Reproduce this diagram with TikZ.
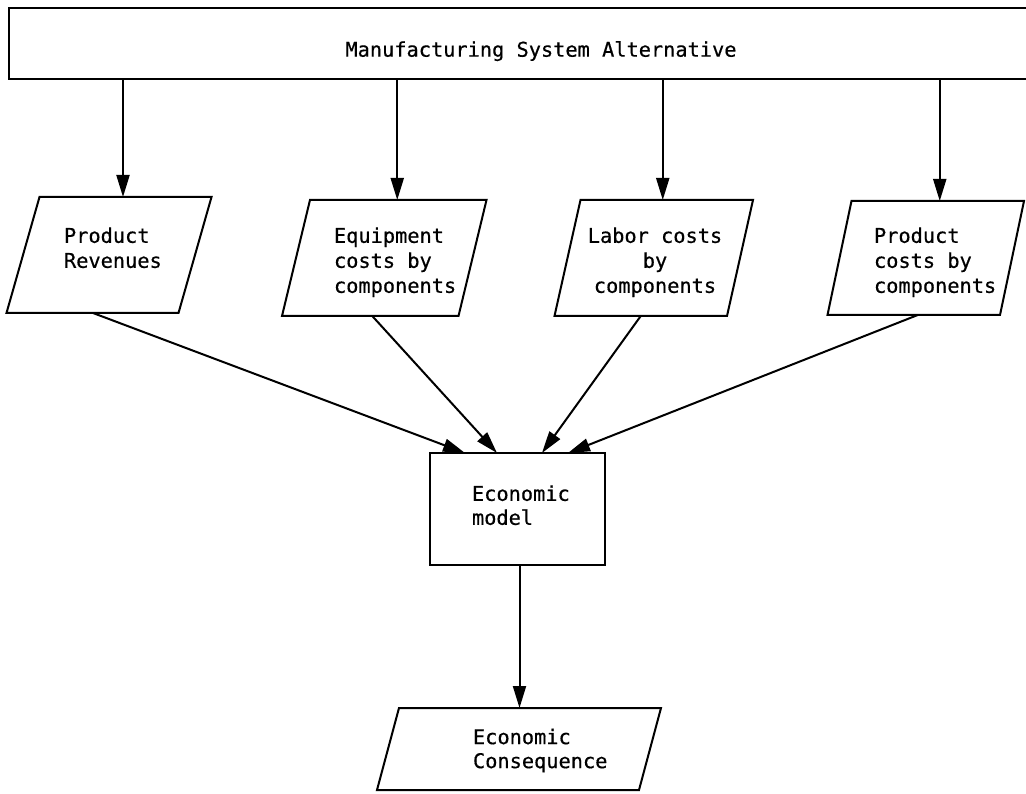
\documentclass[tikz,border=0pt]{standalone}
\usepackage{fontspec}
\setmainfont{DejaVu Sans Mono}[FakeBold=0.5]
\usetikzlibrary{arrows.meta}
\newcommand\drawpara[2]{\draw ([xshift=-#2]#1.south west) -- ([xshift=#2]#1.north west) -- ([xshift=#2]#1.north east) -- ([xshift=-#2]#1.south east) -- cycle;}
\begin{document}
\begin{tikzpicture}[x=1pt,y=-1pt,line width=2pt,
  frame/.style={draw=none,rectangle,inner sep=0pt,outer sep=0pt},
  boxed/.style={draw,rectangle,inner sep=0pt,outer sep=0pt},
  lbl/.style={inner sep=0pt,anchor=north west,align=left,font=\fontsize{20.3}{25}\selectfont},
  lblb/.style={lbl,font=\fontsize{20.3}{24}\selectfont},
  arr/.style={-{Triangle[length=22pt,width=13pt]},line width=2pt}]
\useasboundingbox (0,0) rectangle (1026,794);
\clip (0,0) rectangle (1026,794);
\fill[white] (0,0) rectangle (1026,794);
% top box
\node[boxed,minimum width=1081pt,minimum height=71pt] (top) at (549.5,43.5) {};
\node[lbl,anchor=base] (tt) at (541,56.7) {Manufacturing System Alternative};
% parallelograms
\node[frame,minimum width=172pt,minimum height=116pt] (p1) at (109,255) {};
\node[frame,minimum width=176.5pt,minimum height=116pt] (p2) at (384.25,258) {};
\node[frame,minimum width=172.5pt,minimum height=116pt] (p3) at (653.75,258) {};
\node[frame,minimum width=172.5pt,minimum height=114pt] (p4) at (925.75,258) {};
\drawpara{p1}{16.5}
\drawpara{p2}{14}
\drawpara{p3}{13}
\drawpara{p4}{12}
\node[lbl] (p1t) at (63,226.4) {Product\\Revenues};
\node[lbl] (p2t) at (333,226.4) {Equipment\\costs by\\components};
\node[lbl,anchor=north,align=center] (p3t) at (655,226.4) {Labor costs\\by\\components};
\node[lbl] (p4t) at (873,226.4) {Product\\costs by\\components};
% economic model
\node[boxed,minimum width=175pt,minimum height=112pt] (em) at (517.5,509) {};
\node[lblb] (emt) at (471,484.4) {Economic\\model};
% economic consequence
\node[frame,minimum width=262pt,minimum height=82pt] (ec) at (519,749) {};
\drawpara{ec}{11}
\node[lblb] (ect) at (472,727.7) {Economic\\Consequence};
% connector end points
\coordinate (p1n) at ([xshift=14]p1.north);
\coordinate (p2n) at ([xshift=13]p2.north);
\coordinate (p3n) at ([xshift=9]p3.north);
\coordinate (p4n) at ([xshift=14]p4.north);
\coordinate (p1s) at ([xshift=-16]p1.south);
\coordinate (p2s) at ([xshift=-12]p2.south);
\coordinate (p3s) at ([xshift=-13]p3.south);
\coordinate (p4s) at ([xshift=-8]p4.south);
\coordinate (e1) at ([xshift=-52.5]em.north);
\coordinate (e2) at ([xshift=-20.5]em.north);
\coordinate (e3) at ([xshift=24.5]em.north);
\coordinate (e4) at ([xshift=50.5]em.north);
\coordinate (ems) at ([xshift=2]em.south);
% connectors
\draw[arr] (p1n |- top.south) -- (p1n);
\draw[arr] (p2n |- top.south) -- (p2n);
\draw[arr] (p3n |- top.south) -- (p3n);
\draw[arr] (p4n |- top.south) -- (p4n);
\draw[arr] (p1s) -- (e1);
\draw[arr] (p2s) -- (e2);
\draw[arr] (p3s) -- (e3);
\draw[arr] (p4s) -- (e4);
\draw[arr] (ems) -- (ems |- ec.north);
\end{tikzpicture}
\end{document}
